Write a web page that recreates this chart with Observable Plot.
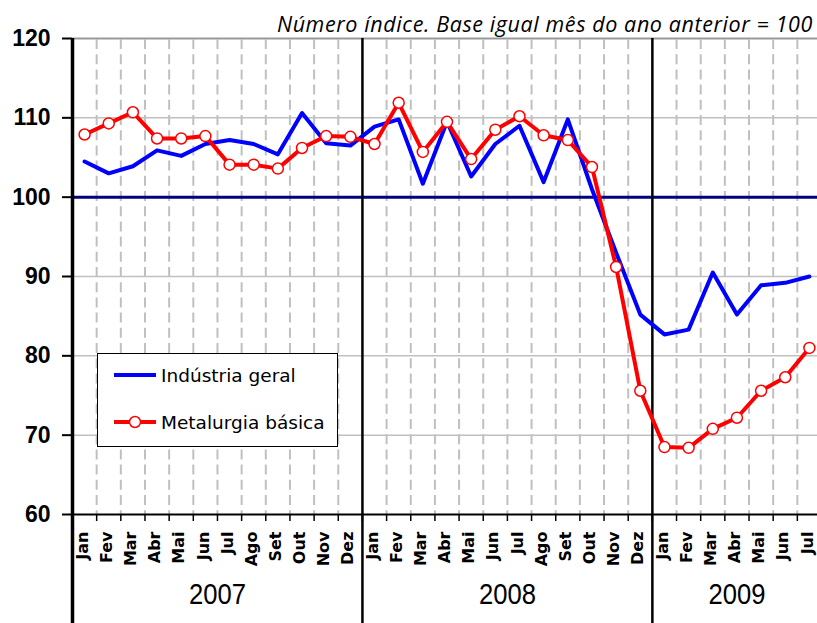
<!DOCTYPE html>
<html><head><meta charset="utf-8">
<script src="https://cdn.jsdelivr.net/npm/d3@7"></script>
<script src="https://cdn.jsdelivr.net/npm/@observablehq/plot@0.6"></script>
<style>
body{margin:0;background:#fff;}
#wrap{position:relative;width:817px;height:623px;overflow:hidden;background:#fff;}
#title{position:absolute;right:4px;top:13px;font-family:"Open Sans",sans-serif;font-style:italic;font-size:21.5px;letter-spacing:0.6px;line-height:21.5px;white-space:nowrap;color:#000;}
#legend{position:absolute;left:97px;top:353px;width:239px;height:92px;border:1px solid #000;background:#fff;font-family:"DejaVu Sans",sans-serif;font-size:18.5px;color:#000;}
#legend .row{position:absolute;left:0;height:24px;display:flex;align-items:center;}
#legend svg{margin-left:15px;margin-right:4px;}
</style></head><body>
<div id="wrap"><div id="chart"></div><div id="title"></div><div id="legend"></div></div>
<script>
const titleText = "Número índice. Base igual mês do ano anterior = 100";
const monthNames = ["Jan","Fev","Mar","Abr","Mai","Jun","Jul","Ago","Set","Out","Nov","Dez"];
const years = ["2007","2008","2009"];
const yearStart = [0, 12, 24];
const yearMonths = [12, 12, 7];
const seriesNames = ["Indústria geral", "Metalurgia básica"];
const industria = [104.5,103.0,103.9,105.9,105.2,106.7,107.2,106.7,105.4,110.6,106.8,106.5,
                   108.9,109.8,101.7,109.5,102.6,106.7,109.0,101.9,109.8,101.0,93.0,85.2,
                   82.7,83.3,90.5,85.2,88.9,89.2,90.0];
const metalurgia = [107.9,109.3,110.7,107.4,107.4,107.7,104.1,104.1,103.6,106.2,107.7,107.6,
                    106.7,111.9,105.7,109.5,104.8,108.5,110.2,107.8,107.2,103.8,91.2,75.6,
                    68.5,68.4,70.8,72.2,75.6,77.3,81.0];
const yTicks = [60,70,80,90,100,110,120];
const yGrid = [70,80,90,110];

const n = industria.length;
const data = d3.range(n).map(i => ({t: i + 0.5, ind: industria[i], met: metalurgia[i], label: monthNames[i % 12]}));
const yearData = years.map((y, k) => ({year: y, c: yearStart[k] + yearMonths[k] / 2}));
const boundaries = d3.range(1, n);
const dashed = boundaries.filter(i => i % 12 !== 0);

document.getElementById("title").textContent = titleText;

const chart = Plot.plot({
  width: 817, height: 623,
  marginLeft: 72, marginTop: 38, marginBottom: 109, marginRight: 0,
  style: {background: "white", color: "black", overflow: "hidden"},
  x: {domain: [0, n], range: [72, 821]},
  y: {domain: [60, 120]},
  marks: [
    Plot.ruleY(yGrid, {stroke: "#c0c0c0", strokeWidth: 1.5}),
    Plot.ruleY([120], {stroke: "#999", strokeWidth: 2}),
    Plot.ruleX(dashed, {stroke: "#c0c0c0", strokeWidth: 2, strokeDasharray: "10,5.2", strokeDashoffset: -1}),
    Plot.ruleY([100], {stroke: "#000080", strokeWidth: 3}),
    Plot.ruleY([60], {stroke: "black", strokeWidth: 2}),
    Plot.axisX({ticks: d3.range(1, n + 1), tickSize: 7, tickFormat: () => "", strokeWidth: 1.5}),
    Plot.axisX(data.map(d => d.t), {ticks: data.map(d => d.t), tickSize: 0, tickPadding: 17, tickRotate: -90, dx: -2,
      tickFormat: t => monthNames[Math.floor(t) % 12], fontSize: 16, fontWeight: "bold", fontFamily: "DejaVu Sans", label: null}),
    Plot.axisY({ticks: yTicks, tickSize: 10, tickPadding: 12, strokeWidth: 2, fontSize: 23, fontWeight: "bold",
      fontFamily: "Liberation Sans", label: null, tickFormat: d => String(d)}),
    Plot.ruleX([0], {stroke: "black", strokeWidth: 3.5, insetBottom: -109}),
    Plot.ruleX(yearStart.slice(1), {stroke: "black", strokeWidth: 2.5, insetBottom: -109}),
    Plot.text(yearData, {x: "c", text: "year", frameAnchor: "bottom", dy: 89, fontSize: 30,
      fontFamily: "Liberation Sans", fill: "black", className: "yearlab"}),
    Plot.line(data, {x: "t", y: "ind", stroke: "#0000ff", strokeWidth: 4}),
    Plot.line(data, {x: "t", y: "met", stroke: "#ff0000", strokeWidth: 4}),
    Plot.dot(data, {x: "t", y: "met", r: 5.5, fill: "white", stroke: "#ff0000", strokeWidth: 1.5})
  ]
});
document.getElementById("chart").appendChild(chart);
// narrow the year labels like the condensed face of the original
d3.select(chart).selectAll(".yearlab text").attr("textLength", 57).attr("lengthAdjust", "spacingAndGlyphs");

// legend
const legend = document.getElementById("legend");
const rows = [
  {name: seriesNames[0], color: "#0000ff", dot: false, top: 9},
  {name: seriesNames[1], color: "#ff0000", dot: true, top: 56}
];
rows.forEach(r => {
  const div = document.createElement("div");
  div.className = "row";
  div.style.top = r.top + "px";
  div.innerHTML = `<svg width="44" height="14"><line x1="1" x2="43" y1="7" y2="7" stroke="${r.color}" stroke-width="4"/>` +
    (r.dot ? `<circle cx="22" cy="7" r="5.5" fill="white" stroke="${r.color}" stroke-width="1.5"/>` : "") +
    `</svg><span>${r.name}</span>`;
  legend.appendChild(div);
});
</script>
</body></html>
